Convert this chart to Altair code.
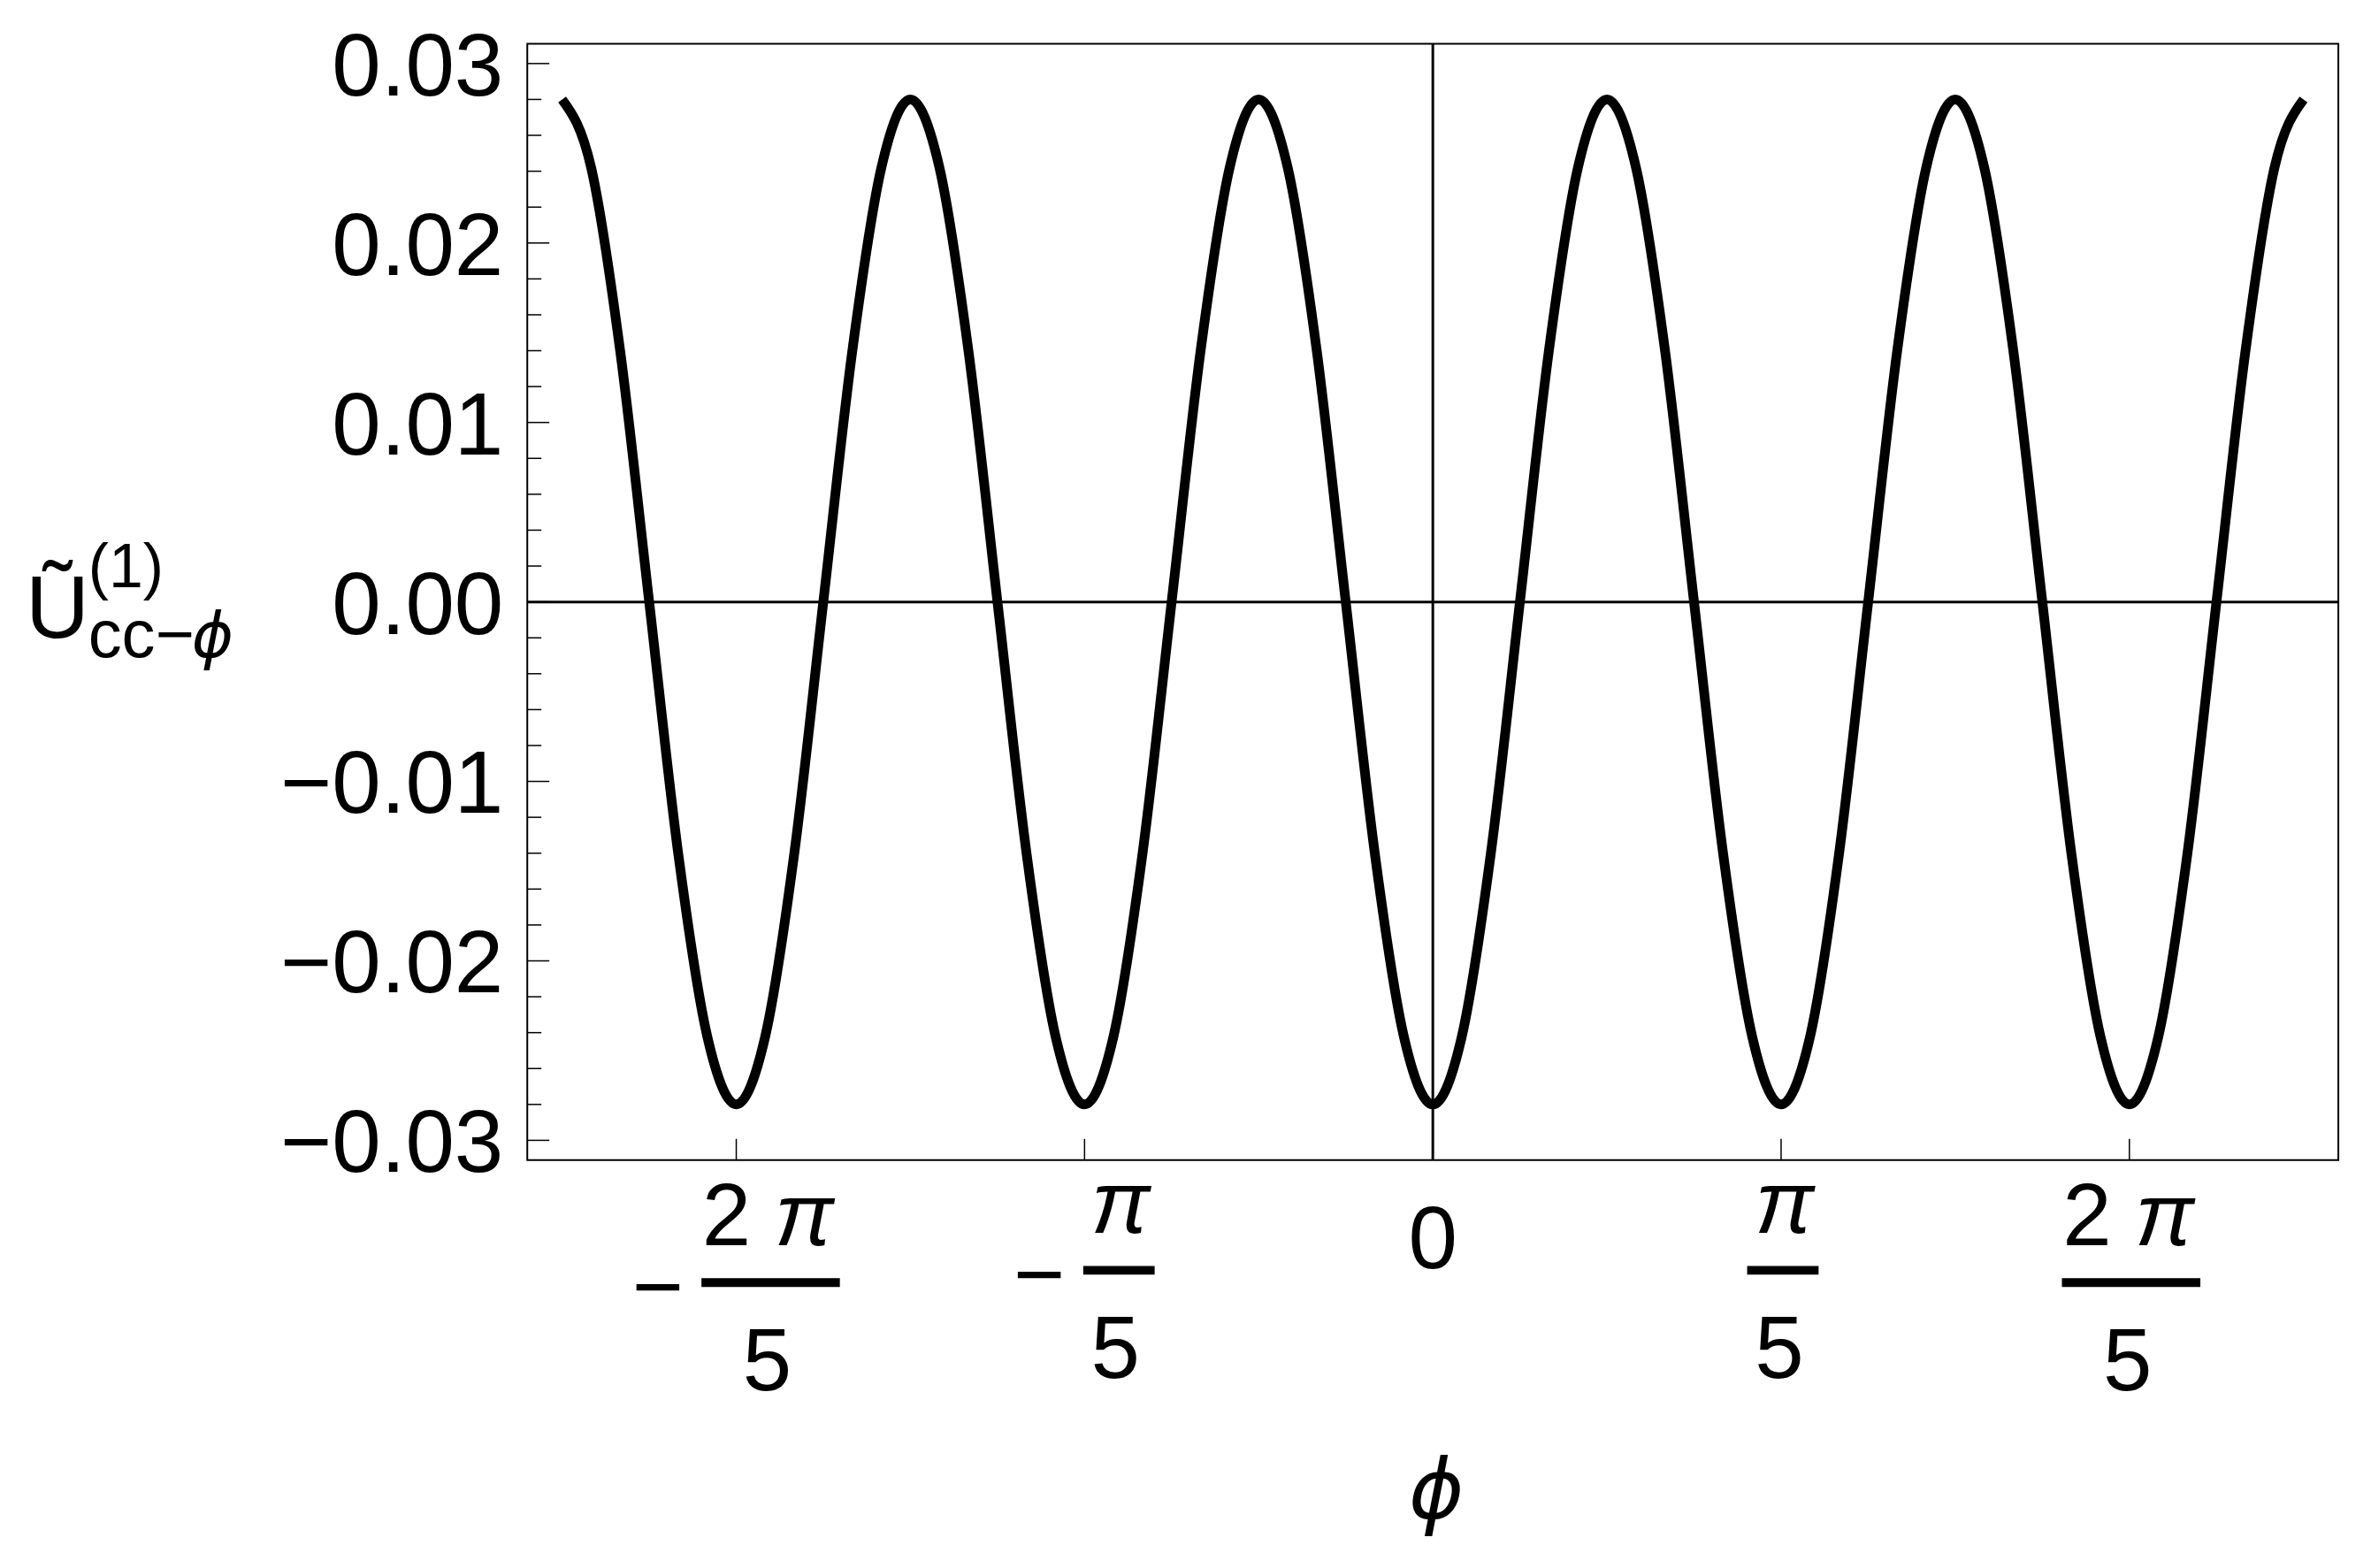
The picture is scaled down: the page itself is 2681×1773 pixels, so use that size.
import altair as alt
import pandas as pd

# ---------------- data ----------------
PHI = [
    -1.5708, -1.5184, -1.4661, -1.4137, -1.3614, -1.3090,
    -1.2566, -1.2043, -1.1519, -1.0996, -1.0472, -0.9948,
    -0.9425, -0.8901, -0.8378, -0.7854, -0.7330, -0.6807,
    -0.6283, -0.5760, -0.5236, -0.4712, -0.4189, -0.3665,
    -0.3142, -0.2618, -0.2094, -0.1571, -0.1047, -0.0524,
    0.0,
    0.0524, 0.1047, 0.1571, 0.2094, 0.2618, 0.3142,
    0.3665, 0.4189, 0.4712, 0.5236, 0.5760, 0.6283,
    0.6807, 0.7330, 0.7854, 0.8378, 0.8901, 0.9425,
    0.9948, 1.0472, 1.0996, 1.1519, 1.2043, 1.2566,
    1.3090, 1.3614, 1.4137, 1.4661, 1.5184, 1.5708,
]
U = [
    0.028, 0.0242, 0.014, 0.0, -0.014, -0.0242,
    -0.028, -0.0242, -0.014, 0.0, 0.014, 0.0242,
    0.028, 0.0242, 0.014, 0.0, -0.014, -0.0242,
    -0.028, -0.0242, -0.014, 0.0, 0.014, 0.0242,
    0.028, 0.0242, 0.014, 0.0, -0.014, -0.0242,
    -0.028,
    -0.0242, -0.014, 0.0, 0.014, 0.0242, 0.028,
    0.0242, 0.014, 0.0, -0.014, -0.0242, -0.028,
    -0.0242, -0.014, 0.0, 0.014, 0.0242, 0.028,
    0.0242, 0.014, 0.0, -0.014, -0.0242, -0.028,
    -0.0242, -0.014, 0.0, 0.014, 0.0242, 0.028,
]
Y_MAJOR = [-0.03, -0.02, -0.01, 0.0, 0.01, 0.02, 0.03]
Y_MINOR = [-0.028, -0.026, -0.024, -0.022, -0.018, -0.016, -0.014, -0.012,
           -0.008, -0.006, -0.004, -0.002, 0.002, 0.004, 0.006, 0.008,
           0.012, 0.014, 0.016, 0.018, 0.022, 0.024, 0.026, 0.028]
X_TICKS = [-1.2566, -0.6283, 0.0, 0.6283, 1.2566]
X_SIGN = ["−", "−", "", "", ""]
X_COEF = ["2", "", "0", "", "2"]
X_PI = ["π", "π", "", "π", "π"]
X_DEN = ["5", "5", "", "5", "5"]
Y_TITLE = ["Ũ", "(1)", "cc−", "ϕ"]
X_TITLE = "ϕ"

# ---------------- layout / style ----------------
W, H = 2054, 1266
FONT = "Liberation Sans"
XS = alt.Scale(domain=[-1.6336, 1.6336], nice=False, zero=False)
YS = alt.Scale(domain=[-0.0311, 0.0311], nice=False, zero=False)

curve = pd.DataFrame({"phi": PHI, "U": U})

line = alt.Chart(curve).mark_line(color="black", strokeWidth=11, interpolate="monotone").encode(
    x=alt.X("phi:Q", scale=XS, axis=None),
    y=alt.Y("U:Q", scale=YS, axis=None),
)

zero_h = alt.Chart(pd.DataFrame({"U": [0.0]})).mark_rule(color="black", strokeWidth=3).encode(
    y=alt.Y("U:Q", scale=YS, axis=None))
zero_v = alt.Chart(pd.DataFrame({"phi": [0.0]})).mark_rule(color="black", strokeWidth=3).encode(
    x=alt.X("phi:Q", scale=XS, axis=None))

ymaj_df = pd.DataFrame({"U": Y_MAJOR})
ymaj = alt.Chart(ymaj_df).mark_rule(color="black", strokeWidth=1.5).encode(
    y=alt.Y("U:Q", scale=YS, axis=None), x=alt.value(0), x2=alt.value(25))
ymin = alt.Chart(pd.DataFrame({"U": Y_MINOR})).mark_rule(color="black", strokeWidth=1.5).encode(
    y=alt.Y("U:Q", scale=YS, axis=None), x=alt.value(0), x2=alt.value(16))
ylab = alt.Chart(ymaj_df).mark_text(
    align="right", baseline="middle", dy=6, fontSize=100, font="Liberation Sans", color="black"
).encode(
    y=alt.Y("U:Q", scale=YS, axis=None), x=alt.value(-27),
    text=alt.Text("U:Q", format=".2f"))
xt = alt.Chart(pd.DataFrame({"phi": X_TICKS})).mark_rule(color="black", strokeWidth=1.5).encode(
    x=alt.X("phi:Q", scale=XS, axis=None), y=alt.value(H), y2=alt.value(H - 24))

layers = [zero_h, zero_v, ymaj, ymin, xt, ylab, line]


def txt(df, text, dx, y, size=100, italic=False, baseline="alphabetic", font=FONT):
    return alt.Chart(df).mark_text(
        text=text, dx=dx, align="center", baseline=baseline, fontSize=size,
        font=font, fontStyle="italic" if italic else "normal", color="black",
    ).encode(x=alt.X("phi:Q", scale=XS, axis=None), y=alt.value(y))


for i, t in enumerate(X_TICKS):
    df = pd.DataFrame({"phi": [t]})
    if X_DEN[i] == "":
        layers.append(txt(df, X_COEF[i], 0, 1389))
        continue
    two = X_COEF[i] == "2"
    sh = 14 if two else 0
    neg = X_SIGN[i] != ""
    fc = 39 if neg else 2
    bw = 157 if two else 81
    if two:
        layers.append(txt(df, X_COEF[i], fc - 50, 1349 + sh))
        layers.append(txt(df, X_PI[i], fc + 38, 1349 + sh, italic=True))
    else:
        layers.append(txt(df, X_PI[i], fc + 2, 1349 + sh, italic=True))
    layers.append(
        alt.Chart(df).mark_rule(color="black", strokeWidth=10, xOffset=fc - bw / 2,
                                x2Offset=fc + bw / 2).encode(
            x=alt.X("phi:Q", scale=XS, axis=None), x2="phi:Q", y=alt.value(1391 + sh)))
    layers.append(txt(df, X_DEN[i], fc - 4, 1513 + sh))
    if neg:
        layers.append(txt(df, X_SIGN[i], -89 if two else -51.5, 1400 + sh, baseline="middle"))

one = pd.DataFrame({"a": [0]})


def free_text(text, x, y, size, italic=False, align="left", font=FONT):
    return alt.Chart(one).mark_text(
        text=text, align=align, baseline="alphabetic", fontSize=size, font=font,
        fontStyle="italic" if italic else "normal", color="black",
    ).encode(x=alt.value(x), y=alt.value(y))


layers += [
    free_text(Y_TITLE[0], -569, 673, 100),
    free_text(Y_TITLE[1], -498, 616, 70),
    free_text(Y_TITLE[2], -498, 696, 76),
    free_text(Y_TITLE[3], -357, 696, 72, italic=True, align="center", font="DejaVu Sans"),
    free_text(X_TITLE, W / 2 + 4, 1672, 95, italic=True, align="center", font="DejaVu Sans"),
]

chart = alt.layer(*layers).properties(
    width=W, height=H,
    autosize=alt.AutoSizeParams(type="none"),
    padding={"left": 590, "top": 39, "right": 29, "bottom": 460},
    background="white",
).configure_view(stroke="black", strokeWidth=2)

chart.save("out.html", embed_options={"renderer": "svg", "actions": False})
